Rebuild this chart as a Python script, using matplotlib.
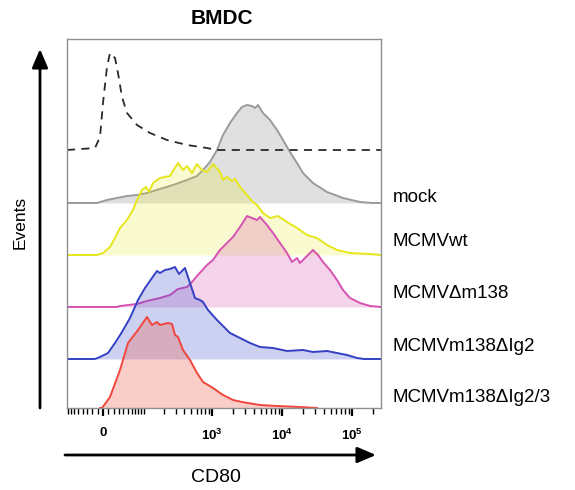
import numpy as np
import matplotlib
matplotlib.use("Agg")
import matplotlib.pyplot as plt

plt.rcParams['font.family'] = ['Liberation Sans', 'DejaVu Sans']
plt.rcParams['mathtext.fontset'] = 'custom'
plt.rcParams['mathtext.rm'] = 'Liberation Sans'
plt.rcParams['mathtext.bf'] = 'Liberation Sans:bold'

# CD80 histograms, x in display channels (0-314), heights normalized to mode
iso_x = [0, 28, 33, 36, 40, 43, 48, 51, 55, 60, 70, 83, 100, 120, 140, 150, 314]
iso_h = [0, 2, 13, 47, 83, 97, 92, 77, 53, 37, 25, 17, 10, 5, 2, 0, 0]

mock_x = [0, 30, 40, 50, 60, 70, 80, 93, 106, 120, 130, 136, 143, 150, 156, 163, 170, 175, 180,
          185, 188, 191, 196, 203, 210, 216, 223, 230, 236, 246, 260, 276, 293, 305, 314]
mock_h = [0, 0, 3, 5, 7, 8, 10, 14, 18, 23, 27, 33, 41, 53, 68, 80, 90, 96, 98,
          97, 95, 98, 90, 83, 73, 63, 51, 40, 30, 20, 11, 5, 1, 0, 0]

wt_x = [0, 30, 36, 43, 48, 53, 60, 66, 70, 75, 79, 82, 86, 93, 103, 111, 116, 120, 125, 130, 135, 140,
        146, 153, 156, 160, 165, 168, 173, 180, 186, 190, 196, 203, 211, 220, 230, 240, 250, 260,
        270, 283, 303, 314]
wt_h = [0, 0, 2, 8, 17, 27, 35, 45, 55, 65, 68, 63, 72, 77, 79, 92, 85, 89, 82, 91, 85, 83,
        91, 83, 75, 78, 74, 76, 68, 60, 53, 50, 42, 37, 39, 33, 27, 20, 17, 10,
        5, 2, 1, 0]

dm138_x = [0, 50, 53, 70, 80, 93, 103, 111, 120, 125, 130, 140, 146, 153, 160, 166, 173, 180, 185,
           190, 193, 200, 206, 213, 220, 225, 230, 233, 238, 246, 251, 256, 263, 270, 276, 283,
           293, 303, 314]
dm138_h = [0, 0, 1, 3, 6, 9, 12, 18, 20, 25, 31, 42, 47, 57, 64, 70, 80, 91, 89,
           87, 90, 82, 74, 64, 54, 45, 49, 44, 49, 57, 52, 45, 37, 27, 17, 9,
           4, 1, 0]

ig2_x = [0, 28, 33, 41, 48, 55, 63, 71, 78, 85, 90, 93, 98, 103, 108, 112, 118, 123, 128, 133, 136,
         141, 150, 158, 163, 173, 183, 193, 206, 220, 236, 246, 260, 270, 280, 290, 297, 314]
ig2_h = [0, 0, 2, 6, 16, 27, 41, 59, 71, 81, 88, 86, 89, 90, 92, 85, 91, 76, 61, 59, 57,
         49, 39, 31, 26, 21, 16, 12, 11, 8, 9, 7, 8, 6, 4, 1, 0, 0]

ig23_x = [33, 35, 43, 53, 61, 71, 80, 85, 90, 93, 101, 105, 108, 111, 116, 123, 130, 136, 146,
          156, 166, 175, 193, 210, 233, 250]
ig23_h = [0, 0, 11, 38, 65, 78, 91, 83, 86, 83, 85, 84, 73, 71, 58, 48, 35, 26, 20,
          13, 8, 6, 3, 2, 1, 0]

samples = ["mock", "MCMVwt", "MCMV\u0394m138", "MCMVm138\u0394Ig2", "MCMVm138\u0394Ig2/3"]
offsets = [205, 153, 101, 49, 0]
iso_offset = 258
line_colors = ["#9a9a9a", "#e6e61c", "#d651b2", "#3340c4", "#f2453c"]
fill_colors = ["#e0e0e0", "#e6e61c", "#d651b2", "#3a48c8", "#f0503c"]
fill_alphas = [1.0, 0.2, 0.25, 0.25, 0.28]

major_vals = [0, 1e3, 1e4, 1e5]
major_labels = ["0", r"$\mathbf{10^3}$", r"$\mathbf{10^4}$", r"$\mathbf{10^5}$"]


def chan(v):
    # biexponential-like display transform
    return 36 + 70 * np.arcsinh(np.asarray(v) / 55.4) / np.log(10)


def main():
    W, H = 575, 490
    fig = plt.figure(figsize=(W / 100, H / 100), dpi=100)
    ax = fig.add_axes([67 / W, (H - 408) / H, 314 / W, 369 / H])

    data = [(mock_x, mock_h), (wt_x, wt_h), (dm138_x, dm138_h), (ig2_x, ig2_h), (ig23_x, ig23_h)]
    for i, (x, h) in enumerate(data):
        y = np.array(h) + offsets[i]
        ax.fill_between(x, offsets[i], y, color=fill_colors[i], alpha=fill_alphas[i], lw=0, zorder=2 + i)
        ax.plot(x, y, color=line_colors[i], lw=1.4, zorder=2.1 + i)

    ax.plot(iso_x, np.array(iso_h) + iso_offset, color="#2a2a2a", lw=1.3,
            linestyle=(0, (4.5, 3.5)), zorder=10)

    ax.set_xlim(0, 314)
    ax.set_ylim(0, 369)
    ax.set_yticks([])

    minor = []
    for d in [10, 100, 1000, 10000, 100000]:
        for k in range(1, 10):
            for s in [1, -1]:
                v = s * k * d
                if v in major_vals:
                    continue
                p = float(chan(v))
                if 0 <= p <= 314:
                    minor.append(p)
    ax.set_xticks(chan(major_vals))
    ax.set_xticklabels(major_labels, fontsize=9.5, fontweight="bold")
    ax.set_xticks(minor, minor=True)
    ax.tick_params(axis="x", which="major", direction="out", length=6, width=1.6, color="black", pad=8)
    ax.tick_params(axis="x", which="minor", direction="out", length=4, width=1.0, color="black")

    for sp in ax.spines.values():
        sp.set_color("#8f8f8f")
        sp.set_linewidth(1.0)
        sp.set_zorder(20)

    label_y = [198, 241, 294, 346, 398]
    for name, py in zip(samples, label_y):
        fig.text(393 / W, 1 - py / H, name, fontsize=13.5, va="center", ha="left")

    fig.text(222 / W, 1 - 18 / H, "BMDC", fontsize=15, fontweight="bold", ha="center", va="center")
    fig.text(20 / W, 1 - 222 / H, "Events", fontsize=12.5, rotation=90, ha="center", va="center")
    fig.text(216 / W, 1 - 477 / H, "CD80", fontsize=14, ha="center", va="center")

    arrow = dict(arrowstyle="-|>,head_length=0.75,head_width=0.32", lw=2, color="black",
                 shrinkA=0, shrinkB=0, mutation_scale=15)
    ax.annotate("", xy=(40 / W, 1 - 49 / H), xytext=(40 / W, 1 - 408 / H),
                xycoords="figure fraction", textcoords="figure fraction", arrowprops=arrow)
    ax.annotate("", xy=(376 / W, 1 - 455 / H), xytext=(65 / W, 1 - 455 / H),
                xycoords="figure fraction", textcoords="figure fraction", arrowprops=arrow)

    fig.savefig("out.png", dpi=100)


if __name__ == "__main__":
    main()
